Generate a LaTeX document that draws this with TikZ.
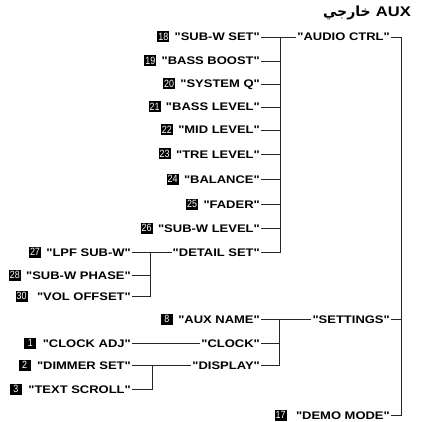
\documentclass[tikz,border=0pt]{standalone}
\usepackage{fontspec}
\usetikzlibrary{positioning}
\TeXXeTstate=1
\newfontfamily\lblfont{Liberation Sans}[FakeStretch=1.18,BoldFeatures={FakeStretch=1.18}]
\newfontfamily\badgefont{Liberation Sans}[FakeStretch=0.85]
\newfontfamily\arabicfont[Script=Arabic]{DejaVu Sans}

\tikzset{
  item/.style={anchor=east, inner xsep=1pt, inner ysep=1pt, text height=8pt, text depth=0pt,
    font=\lblfont\bfseries\fontsize{11}{13}\selectfont},
  badge/.style={fill=black, text=white, inner xsep=1pt, inner ysep=0.5pt, minimum height=11pt,
    minimum width=12pt, font=\badgefont\fontsize{10.5}{11}\selectfont},
  wire/.style={line width=0.9pt, black!85}
}

\begin{document}
\begin{tikzpicture}[x=1pt,y=-1pt]
\useasboundingbox (0,0) rectangle (425,422);

% Title
\node[anchor=east, inner sep=0pt, font=\bfseries\fontsize{14}{16}\selectfont] (title) at (411,13)
  {{\arabicfont\bfseries\beginR خارجي\endR} \lblfont\bfseries AUX};

% Buses
\coordinate (mainbus) at (401,0);
\coordinate (audiobus) at (280,0);
\coordinate (detailbus) at (150,0);
\coordinate (setbus) at (279,0);
\coordinate (dispbus) at (152,0);

% Top level
\node[item] (audio) at (391,37) {"AUDIO CTRL"};
\node[item] (settings) at (391,319) {"SETTINGS"};
\node[item] (demo) at (391,415) {"DEMO MODE"};
\node[badge, left=8pt of demo] (b17) {17};

% Audio ctrl items
\foreach \n/\y/\t in {18/37/SUB-W SET,19/61/BASS BOOST,20/84/SYSTEM Q,21/107/BASS LEVEL,
  22/130/MID LEVEL,23/154/TRE LEVEL,24/179/BALANCE,25/204/FADER,26/228/SUB-W LEVEL}{
  \node[item] (a\n) at (261,\y) {"\t"};
  \node[badge, left=4pt of a\n] (b\n) {\n};
}
\node[item] (detail) at (261,252) {"DETAIL SET"};

% Detail set items
\node[item] (d27) at (132,252) {"LPF SUB-W"};
\node[badge, left=4pt of d27] (b27) {27};
\node[item] (d28) at (132,275) {"SUB-W PHASE"};
\node[badge, left=4pt of d28] (b28) {28};
\node[item] (d30) at (132,296) {"VOL OFFSET"};
\node[badge, left=8pt of d30] (b30) {30};

% Settings items
\node[item] (auxname) at (261,319) {"AUX NAME"};
\node[badge, left=4pt of auxname] (b8) {8};
\node[item] (clock) at (261,343) {"CLOCK"};
\node[item] (display) at (261,365) {"DISPLAY"};
\node[item] (clockadj) at (132,343) {"CLOCK ADJ"};
\node[badge, left=5pt of clockadj] (b1) {1};
\node[item] (dimmer) at (132,365) {"DIMMER SET"};
\node[badge, left=5pt of dimmer] (b2) {2};
\node[item] (scroll) at (132,389) {"TEXT SCROLL"};
\node[badge, left=5pt of scroll] (b3) {3};

% Main bracket
\draw[wire] (audio.east) -- (audio.east -| mainbus) -- (demo.east -| mainbus) -- (demo.east);
\draw[wire] (settings.east) -- (settings.east -| mainbus);

% Audio ctrl bracket
\draw[wire] (a18.east) -- (audio.west);
\draw[wire] (a18.east -| audiobus) -- (detail.east -| audiobus) -- (detail.east);
\foreach \n in {19,...,26}
  \draw[wire] (a\n.east) -- (a\n.east -| audiobus);

% Detail set bracket
\draw[wire] (d27.east) -- (detail.west);
\draw[wire] (d27.east -| detailbus) -- (d30.east -| detailbus) -- (d30.east);
\draw[wire] (d28.east) -- (d28.east -| detailbus);

% Settings bracket
\draw[wire] (auxname.east) -- (settings.west);
\draw[wire] (auxname.east -| setbus) -- (display.east -| setbus) -- (display.east);
\draw[wire] (clock.east) -- (clock.east -| setbus);
\draw[wire] (clockadj.east) -- (clock.west);

% Display bracket
\draw[wire] (dimmer.east) -- (display.west);
\draw[wire] (dimmer.east -| dispbus) -- (scroll.east -| dispbus) -- (scroll.east);

\end{tikzpicture}
\end{document}
